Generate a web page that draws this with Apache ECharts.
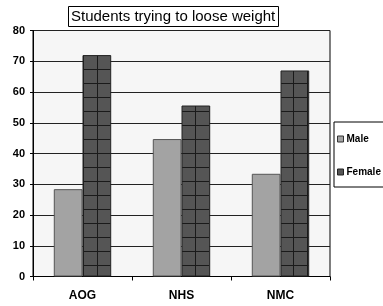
<!DOCTYPE html>
<html><head><meta charset="utf-8">
<script src="https://cdn.jsdelivr.net/npm/echarts@6/dist/echarts.min.js"></script>
<style>html,body{margin:0;padding:0;background:#fff}#c{width:383px;height:306px}</style>
</head><body><div id="c"></div>
<script>
const categories = ['AOG', 'NHS', 'NMC'];
const maleValues = [28.4, 44.7, 33.4];
const femaleValues = [72, 55.6, 67];
const yTicks = [0, 10, 20, 30, 40, 50, 60, 70, 80];

const pc = document.createElement('canvas');
pc.width = 14; pc.height = 14;
const g = pc.getContext('2d');
g.fillStyle = '#555555'; g.fillRect(0, 0, 14, 14);
g.fillStyle = '#1a1a1a';
g.fillRect(0, 13, 14, 1);
g.fillRect(13, 0, 1, 14);

const chart = echarts.init(document.getElementById('c'), null, {renderer: 'canvas'});
chart.setOption({
  animation: false,
  backgroundColor: '#ffffff',
  title: {
    text: 'Students trying to loose weight',
    left: 68, top: 6,
    padding: [2, 3, 2, 3],
    borderColor: '#000', borderWidth: 1, backgroundColor: '#fff',
    textStyle: {fontFamily: 'Liberation Sans, Arial, sans-serif', fontWeight: 'normal', fontSize: 15, color: '#000', lineHeight: 17}
  },
  legend: {
    orient: 'vertical', left: 334, top: 122,
    padding: [12, 4, 10, 3],
    itemGap: 23, itemWidth: 6, itemHeight: 6,
    borderColor: '#000', borderWidth: 1, backgroundColor: '#fff', borderRadius: 0,
    textStyle: {fontFamily: 'Liberation Sans, Arial, sans-serif', fontWeight: 'bold', fontSize: 10, color: '#000', padding: [0, 0, 0, -2]},
    data: [
      {name: 'Male', icon: 'rect', itemStyle: {color: '#a3a3a3', borderColor: '#333', borderWidth: 1}},
      {name: 'Female', icon: 'rect', itemStyle: {color: '#555', borderColor: '#222', borderWidth: 1}}
    ]
  },
  grid: {
    left: 33, top: 30.5, width: 297, height: 246,
    show: true, backgroundColor: '#f6f6f6', borderColor: '#000', borderWidth: 1
  },
  xAxis: {
    type: 'category', data: categories,
    axisLine: {lineStyle: {color: '#000', width: 1}},
    axisTick: {show: true, length: 4, lineStyle: {color: '#000'}},
    axisLabel: {margin: 13, fontFamily: 'Liberation Sans, Arial, sans-serif', fontWeight: 'bold', fontSize: 12, color: '#000'}
  },
  yAxis: {
    type: 'value', min: yTicks[0], max: yTicks[yTicks.length - 1], interval: yTicks[1] - yTicks[0],
    axisLine: {show: true, lineStyle: {color: '#000', width: 1}},
    axisTick: {show: true, length: 3, lineStyle: {color: '#000'}},
    splitLine: {show: true, lineStyle: {color: '#222', width: 1}},
    axisLabel: {margin: 8, fontFamily: 'Liberation Sans, Arial, sans-serif', fontWeight: 'bold', fontSize: 11, color: '#000'}
  },
  series: [
    {name: 'Male', type: 'bar', data: maleValues, barGap: '0%', barCategoryGap: '42%',
     itemStyle: {color: '#a3a3a3', borderColor: '#555', borderWidth: 1}},
    {name: 'Female', type: 'bar', data: femaleValues, barGap: '0%', barCategoryGap: '42%',
     itemStyle: {color: {image: pc, repeat: 'repeat'}, borderColor: '#222', borderWidth: 1}}
  ]
});
</script></body></html>
